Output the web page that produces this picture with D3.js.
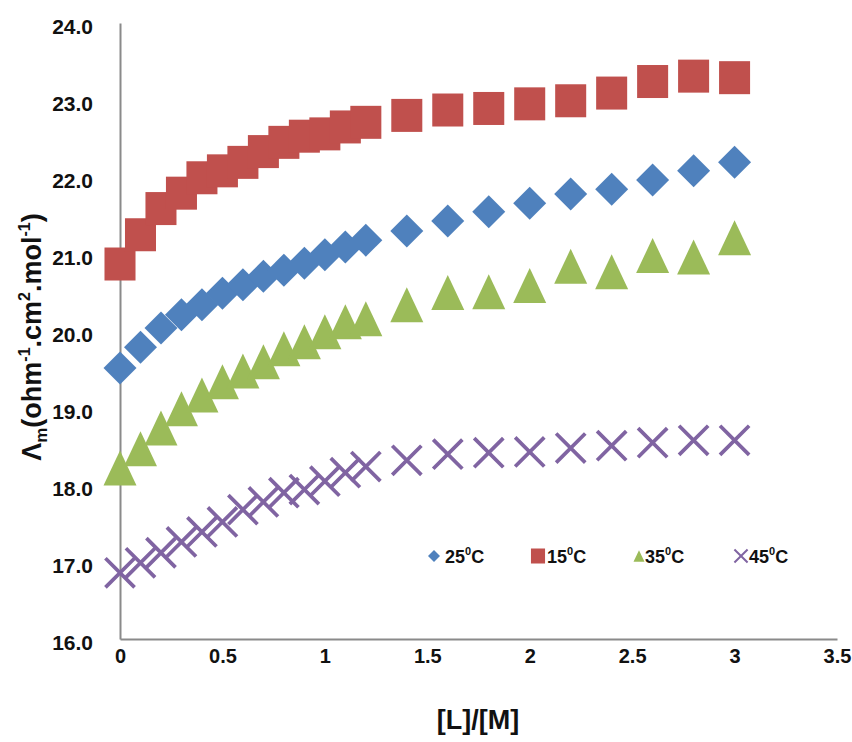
<!DOCTYPE html>
<html>
<head>
<meta charset="utf-8">
<script src="https://cdn.jsdelivr.net/npm/d3@7"></script>
<style>
  html, body { margin: 0; padding: 0; background: #fff; }
  svg { display: block; }
  text { font-family: "Liberation Sans", Arial, sans-serif; font-weight: bold; fill: #111; }
</style>
</head>
<body>
<svg id="chart" width="852" height="742"></svg>
<script>
const xValues = [0, 0.1, 0.2, 0.3, 0.4, 0.5, 0.6, 0.7, 0.8, 0.9, 1.0, 1.1, 1.2, 1.4, 1.6, 1.8, 2.0, 2.2, 2.4, 2.6, 2.8, 3.0];
const series25 = [19.52, 19.79, 20.04, 20.21, 20.34, 20.49, 20.60, 20.71, 20.79, 20.88, 20.99, 21.09, 21.18, 21.30, 21.43, 21.55, 21.66, 21.78, 21.84, 21.96, 22.08, 22.19];
const series15 = [20.87, 21.25, 21.59, 21.79, 21.99, 22.08, 22.19, 22.33, 22.45, 22.53, 22.56, 22.65, 22.71, 22.80, 22.87, 22.89, 22.95, 22.99, 23.09, 23.24, 23.31, 23.29];
const series35 = [18.22, 18.47, 18.74, 18.99, 19.17, 19.34, 19.48, 19.60, 19.77, 19.86, 19.99, 20.12, 20.16, 20.34, 20.50, 20.51, 20.59, 20.84, 20.77, 20.98, 20.96, 21.21];
const series45 = [16.86, 16.99, 17.12, 17.26, 17.39, 17.52, 17.68, 17.78, 17.90, 17.94, 18.05, 18.16, 18.24, 18.32, 18.40, 18.42, 18.43, 18.48, 18.51, 18.55, 18.58, 18.58];
const seriesNames = ["25", "15", "35", "45"];
const xTicks = [0, 0.5, 1, 1.5, 2, 2.5, 3, 3.5];
const yTicks = [16, 17, 18, 19, 20, 21, 22, 23, 24];

const svg = d3.select("#chart");
const W = 852, H = 742;
svg.append("rect").attr("width", W).attr("height", H).attr("fill", "#fff");

const x = d3.scaleLinear().domain([0, 3.5]).range([120, 837]);
const y = d3.scaleLinear().domain([16, 24]).range([639, 23]);

const axisColor = "#8a8a8a";

// Y axis
const yAxis = svg.append("g").attr("transform", `translate(${x(0)},0)`)
  .call(d3.axisLeft(y).tickValues(yTicks).tickFormat(d3.format(".1f")).tickSize(0).tickPadding(27));
yAxis.select(".domain").attr("stroke", axisColor).attr("stroke-width", 2);
yAxis.selectAll("text").attr("font-size", 21).attr("dy", "0.5em")
  .style("font-family", "'Liberation Sans', Arial, sans-serif").style("font-weight", "bold").attr("fill", "#111");

// X axis
const xAxis = svg.append("g").attr("transform", `translate(0,${y(16)})`)
  .call(d3.axisBottom(x).tickValues(xTicks).tickFormat(d => String(d)).tickSize(0).tickPadding(10));
xAxis.select(".domain").attr("stroke", axisColor).attr("stroke-width", 2);
xAxis.selectAll("text").attr("font-size", 20)
  .style("font-family", "'Liberation Sans', Arial, sans-serif").style("font-weight", "bold").attr("fill", "#111");

// Axis titles
svg.append("text").attr("x", 478).attr("y", 729).attr("text-anchor", "middle")
  .attr("font-size", 27).text("[L]/[M]");

const yt = svg.append("text").attr("transform", "translate(41,337) rotate(-90)")
  .attr("text-anchor", "middle").attr("font-size", 27);
yt.append("tspan").text("Λ");
yt.append("tspan").attr("font-size", 17).attr("dy", 6).text("m");
yt.append("tspan").attr("dy", -6).text("(ohm");
yt.append("tspan").attr("font-size", 16).attr("dy", -11).text("-1");
yt.append("tspan").attr("dy", 11).text(".cm");
yt.append("tspan").attr("font-size", 16).attr("dy", -11).text("2");
yt.append("tspan").attr("dy", 11).text(".mol");
yt.append("tspan").attr("font-size", 16).attr("dy", -11).text("-1");
yt.append("tspan").attr("dy", 11).text(")");

const colors = { "25": "#4F81BD", "15": "#C0504D", "35": "#9BBB59", "45": "#8064A2" };
const dataMap = { "25": series25, "15": series15, "35": series35, "45": series45 };

function drawMarker(g, name, cx, cy, s) {
  const c = colors[name];
  if (name === "25") {
    const h = s * 0.5;
    g.append("path").attr("d", `M${cx},${cy - h}L${cx + h},${cy}L${cx},${cy + h}L${cx - h},${cy}Z`).attr("fill", c);
  } else if (name === "15") {
    g.append("rect").attr("x", cx - s * 0.47).attr("y", cy - s * 0.5).attr("width", s * 0.94).attr("height", s).attr("fill", c);
  } else if (name === "35") {
    const hw = s * 0.5, hh = s * 0.53;
    g.append("path").attr("d", `M${cx},${cy - hh}L${cx + hw},${cy + hh}L${cx - hw},${cy + hh}Z`).attr("fill", c);
  } else {
    const h = s * 0.47;
    g.append("path").attr("d", `M${cx - h},${cy - h}L${cx + h},${cy + h}M${cx + h},${cy - h}L${cx - h},${cy + h}`)
      .attr("stroke", c).attr("stroke-width", Math.max(2, s * 0.12)).attr("fill", "none");
  }
}

const sizes = { "25": 33, "15": 33, "35": 33, "45": 31 };
seriesNames.forEach(name => {
  const g = svg.append("g");
  dataMap[name].forEach((v, i) => drawMarker(g, name, x(xValues[i]), y(v), sizes[name]));
});

// Legend
const legendItems = [
  { name: "25", mx: 434, tx: 445 },
  { name: "15", mx: 538, tx: 547 },
  { name: "35", mx: 639, tx: 645 },
  { name: "45", mx: 741, tx: 749 }
];
const ly = 556;
legendItems.forEach(it => {
  const g = svg.append("g");
  const s = it.name === "25" ? 12 : (it.name === "15" ? 15 : (it.name === "35" ? 11 : 14));
  drawMarker(g, it.name, it.mx, ly, s);
  const t = g.append("text").attr("x", it.tx).attr("y", ly + 7).attr("font-size", 18);
  t.append("tspan").text(it.name);
  t.append("tspan").attr("font-size", 11).attr("dy", -8).text("0");
  t.append("tspan").attr("dy", 8).text("C");
});
</script>
</body>
</html>
